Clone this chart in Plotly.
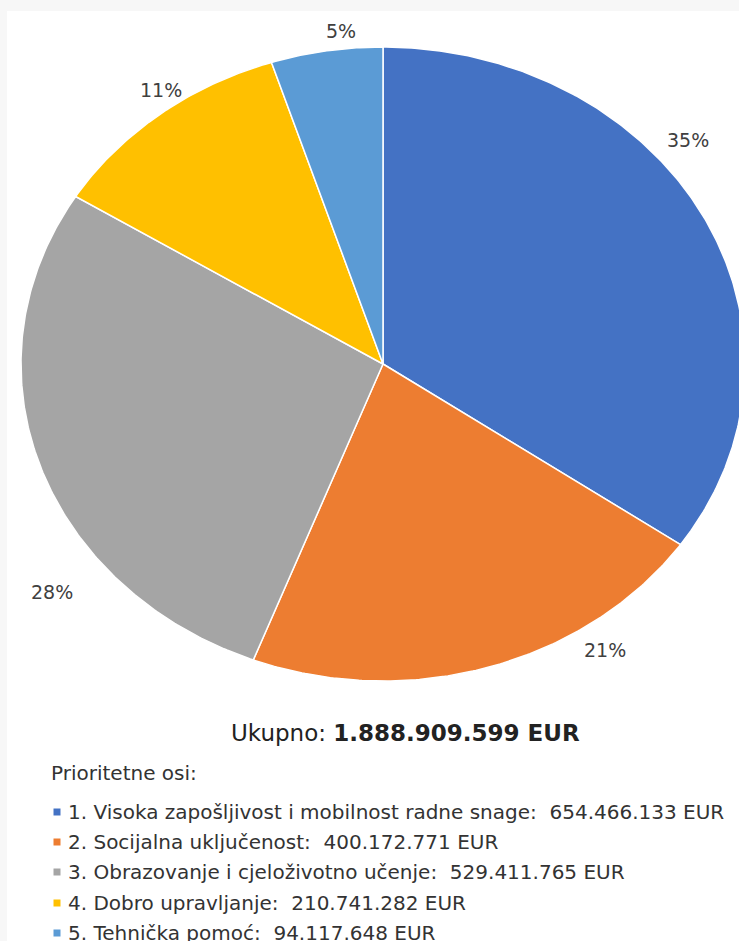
import numpy as np
import plotly.graph_objects as go

# ---- data ----
categories = [
    "1. Visoka zapošljivost i mobilnost radne snage",
    "2. Socijalna uključenost",
    "3. Obrazovanje i cjeloživotno učenje",
    "4. Dobro upravljanje",
    "5. Tehnička pomoć",
]
values = [654466133, 400172771, 529411765, 210741282, 94117648]
colors = ["#4472C4", "#ED7D31", "#A5A5A5", "#FFC000", "#5B9BD5"]

W, H = 739, 941
CX, CY = 383, 364      # pie centre, px
RX, RY = 362, 317      # pie radii, px
FONT = "DejaVu Sans, Liberation Sans, Arial"

def fmt_eur(v):
    return f"{v:,}".replace(",", ".") + " EUR"

total = sum(values)

xr = [-CX / RX, (W - CX) / RX]
yr = [-(H - CY) / RY, CY / RY]

def px2x(px):
    return (px - CX) / RX

def px2y(py):
    return (CY - py) / RY

fig = go.Figure()

# slices (clockwise from 12 o'clock)
cum = 0.0
for cat, v, c in zip(categories, values, colors):
    f0 = cum / total
    cum += v
    f1 = cum / total
    n = max(int((f1 - f0) * 720), 8)
    th = np.linspace(f0, f1, n) * 2 * np.pi
    xs = np.concatenate([[0], np.sin(th), [0]])
    ys = np.concatenate([[0], np.cos(th), [0]])
    fig.add_trace(go.Scatter(
        x=xs, y=ys, mode="lines", fill="toself", fillcolor=c,
        line=dict(color="white", width=1.5), hoverinfo="skip",
        showlegend=False, name=cat,
    ))

# percentage labels (layout positions, px)
label_pos = [(688, 140), (605, 650), (52, 592), (161, 90), (341, 31)]
for v, (lx, ly) in zip(values, label_pos):
    fig.add_annotation(
        x=px2x(lx), y=px2y(ly), xref="x", yref="y",
        text=f"{round(v / total * 100)}%", showarrow=False,
        font=dict(size=19, color="#404040", family=FONT),
        xanchor="center", yanchor="middle",
    )

# total line
fig.add_annotation(
    x=px2x(405), y=px2y(733), xref="x", yref="y",
    text=f"Ukupno: <b>{fmt_eur(total)}</b>", showarrow=False,
    font=dict(size=23, color="#222222", family=FONT),
    xanchor="center", yanchor="middle",
)

fig.add_annotation(
    x=px2x(49), y=px2y(773), xref="x", yref="y",
    text="Prioritetne osi:", showarrow=False,
    font=dict(size=20, color="#333333", family=FONT),
    xanchor="left", yanchor="middle",
)

# legend rows
row_y = [812, 842, 872, 903, 933]
fig.add_trace(go.Scatter(
    x=[px2x(57)] * len(categories), y=[px2y(r) for r in row_y],
    mode="markers", marker=dict(symbol="square", size=7, color=colors),
    hoverinfo="skip", showlegend=False,
))
for cat, v, r in zip(categories, values, row_y):
    fig.add_annotation(
        x=px2x(66), y=px2y(r), xref="x", yref="y",
        text=f"{cat}:  {fmt_eur(v)}", showarrow=False,
        font=dict(size=20, color="#333333", family=FONT),
        xanchor="left", yanchor="middle",
    )

# white panel on light grey page
fig.add_shape(type="rect", xref="paper", yref="paper",
              x0=7 / W, x1=1, y0=0, y1=1 - 11 / H,
              fillcolor="white", line=dict(width=0), layer="below")

fig.update_layout(
    width=W, height=H,
    margin=dict(l=0, r=0, t=0, b=0),
    paper_bgcolor="#f7f7f7", plot_bgcolor="rgba(0,0,0,0)",
    xaxis=dict(range=xr, visible=False, fixedrange=True),
    yaxis=dict(range=yr, visible=False, fixedrange=True),
    showlegend=False,
)

fig.write_html(
    "out.html",
    config={"displayModeBar": False},
    post_script="document.body.style.margin='0';document.body.style.overflow='hidden';",
)
